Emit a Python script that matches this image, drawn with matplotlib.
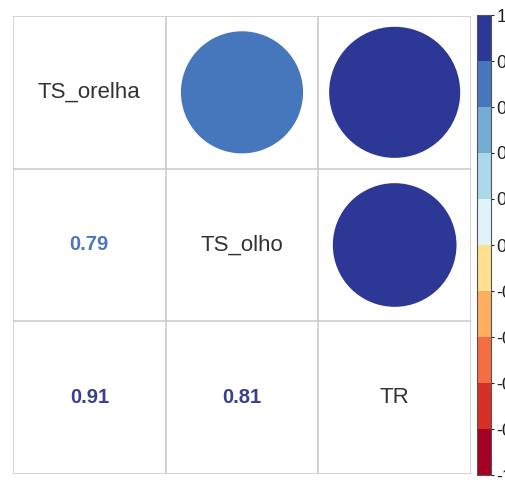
import matplotlib
matplotlib.use("Agg")
import matplotlib.pyplot as plt
import numpy as np
from matplotlib.patches import Circle
from matplotlib.colors import ListedColormap, BoundaryNorm
from matplotlib.colorbar import ColorbarBase

plt.rcParams['font.family'] = ['Liberation Sans', 'DejaVu Sans']

variables = ["TS_orelha", "TS_olho", "TR"]
corr = np.array([
    [1.00, 0.79, 0.91],
    [0.79, 1.00, 0.81],
    [0.91, 0.81, 1.00],
])
bar_colors = ["#a50026", "#d73027", "#f46d43", "#fdae61", "#fee090",
              "#e0f3f8", "#abd9e9", "#74add1", "#4677bd", "#2c3796"]
bounds = np.linspace(-1, 1, 11)
tick_labels = ["-1", "-0.8", "-0.6", "-0.4", "-0.2", "0", "0.2", "0.4", "0.6", "0.8", "1"]
text_colors = {"#4677bd": "#4a78b8", "#2c3796": "#3b3f8c"}

cmap = ListedColormap(bar_colors)
norm = BoundaryNorm(bounds, cmap.N)

fig = plt.figure(figsize=(5.06, 4.80), dpi=100)
ax = fig.add_axes([13/506, 6/480, 458/506, 458/480])
n = len(variables)
ax.set_xlim(0, n)
ax.set_ylim(n, 0)
ax.set_xticks([]); ax.set_yticks([])
for s in ax.spines.values():
    s.set_visible(False)

gc = "#c8c8c8"
for k in range(n + 1):
    ax.plot([k, k], [0, n], color=gc, lw=1.1, zorder=1, solid_capstyle='butt')
    ax.plot([0, n], [k, k], color=gc, lw=1.1, zorder=1, solid_capstyle='butt')

for i in range(n):
    for j in range(n):
        cx, cy = j + 0.5, i + 0.5
        v = corr[i, j]
        col = bar_colors[min(int(norm(v)), 9)]
        if i == j:
            ax.text(cx, cy, variables[i], ha='center', va='center',
                    fontsize=16, color='#333333')
        elif j > i:
            r = 0.45 * np.sqrt(abs(v))
            ax.add_patch(Circle((cx, cy), r, facecolor=col, edgecolor='none', zorder=2))
        else:
            ax.text(cx, cy, f"{v:.2f}", ha='center', va='center', fontsize=14.5,
                    fontweight='bold', color=text_colors.get(col, col))

cax = fig.add_axes([477/506, 5/480, 14/506, 460/480])
cb = ColorbarBase(cax, cmap=cmap, norm=norm, boundaries=bounds, ticks=bounds,
                  orientation='vertical')
cb.set_ticklabels(tick_labels)
cb.outline.set_edgecolor('#555555')
cb.outline.set_linewidth(0.8)
cax.tick_params(length=2, width=0.8, pad=2, labelsize=13, colors='#222222')

fig.savefig("out.png", dpi=100)
